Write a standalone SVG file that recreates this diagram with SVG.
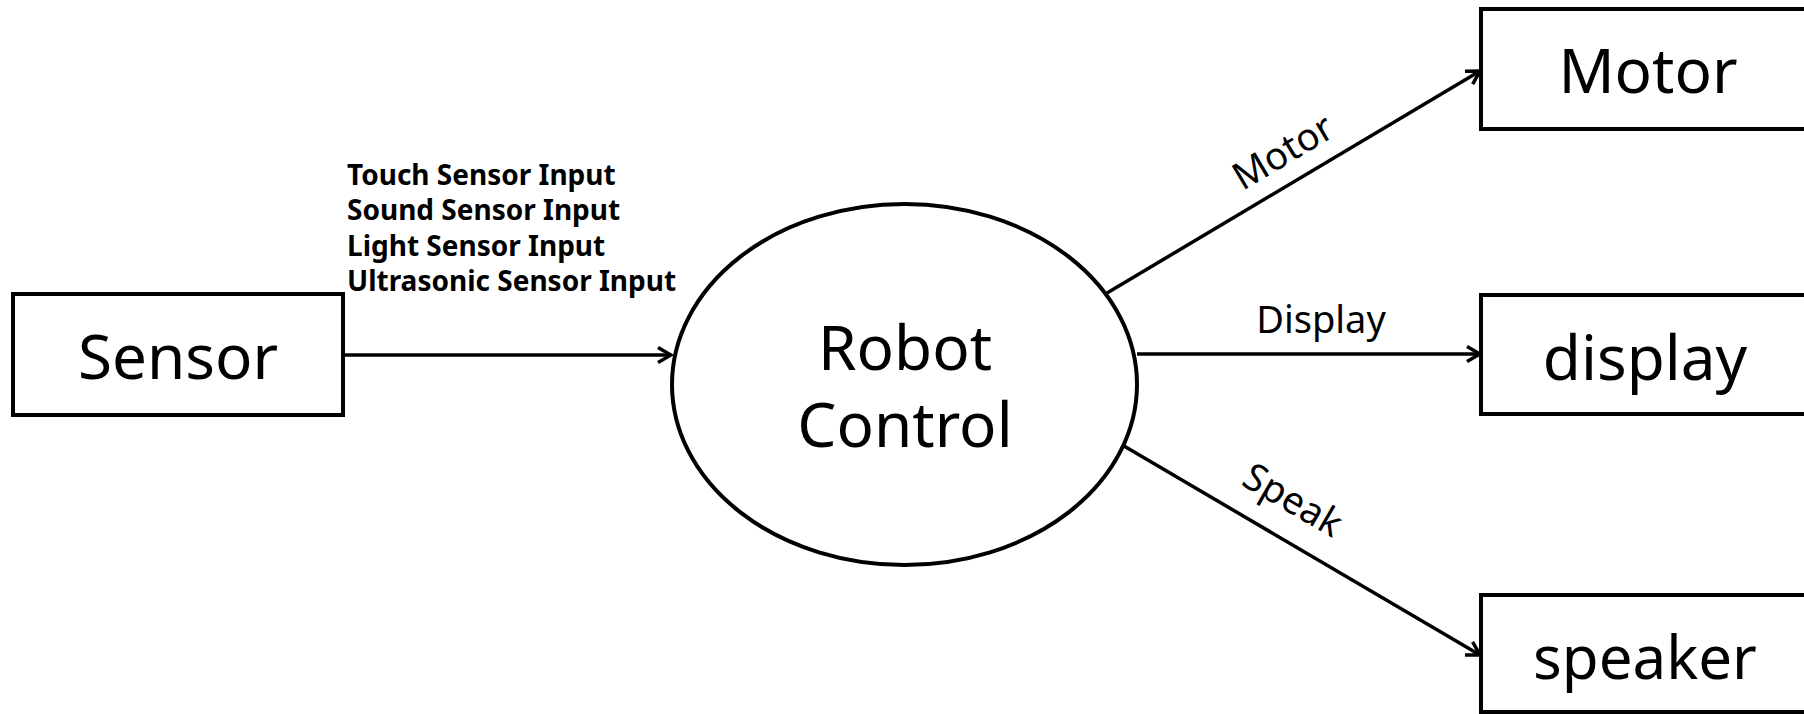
<svg xmlns="http://www.w3.org/2000/svg" width="1804" height="714" viewBox="0 0 1804 714">
<style>
.box{fill:#fff;stroke:#000;stroke-width:4}
.big{font-family:"Noto Sans","Open Sans",sans-serif;font-size:62px;fill:#000;text-anchor:middle}
.lbl{font-family:"Noto Sans","Open Sans",sans-serif;font-size:38px;fill:#000;text-anchor:middle}
.bold{font-family:"Noto Sans","Open Sans",sans-serif;font-size:28px;font-weight:bold;fill:#000}
.edge{stroke:#000;stroke-width:3.5;fill:none}
</style>
<defs>
<marker id="arr" viewBox="0 0 16 18" refX="14.5" refY="9" markerWidth="16" markerHeight="18" markerUnits="userSpaceOnUse" orient="auto">
<path d="M1.5,1.5 L14.5,9 L1.5,16.5" fill="none" stroke="#000" stroke-width="3.5"/>
</marker>
</defs>
<rect width="1804" height="714" fill="#fff"/>
<g id="connectors">
<line class="edge" x1="343" y1="355" x2="671" y2="355" marker-end="url(#arr)"/>
<line class="edge" x1="1107" y1="293" x2="1480" y2="71" marker-end="url(#arr)"/>
<line class="edge" x1="1137" y1="354" x2="1480" y2="354" marker-end="url(#arr)"/>
<line class="edge" x1="1124" y1="446" x2="1480" y2="655" marker-end="url(#arr)"/>
<g id="label-sensor">
<text class="bold" x="347" y="185">Touch Sensor Input</text>
<text class="bold" x="347" y="220">Sound Sensor Input</text>
<text class="bold" x="347" y="256">Light Sensor Input</text>
<text class="bold" x="347" y="291">Ultrasonic Sensor Input</text>
</g>
<text class="lbl" transform="translate(1283,152) rotate(-30.8)" y="13">Motor</text>
<text class="lbl" x="1321" y="333">Display</text>
<text class="lbl" transform="translate(1293,500) rotate(30.2)" y="13">Speak</text>
</g>
<g id="sensor">
<rect class="box" x="13" y="294" width="330" height="121"/>
<text class="big" x="178" y="379">Sensor</text>
</g>
<g id="robot-control">
<ellipse class="box" cx="904.5" cy="384.5" rx="232.5" ry="180.5"/>
<text class="big" x="905" y="370">Robot</text>
<text class="big" x="905" y="447">Control</text>
</g>
<g id="motor">
<rect class="box" x="1481" y="9" width="360" height="120"/>
<text class="big" x="1648" y="93">Motor</text>
</g>
<g id="display">
<rect class="box" x="1481" y="295" width="360" height="119"/>
<text class="big" x="1645" y="380">display</text>
</g>
<g id="speaker">
<rect class="box" x="1481" y="595" width="360" height="117"/>
<text class="big" x="1645" y="679" style="font-size:60px">speaker</text>
</g>
</svg>
